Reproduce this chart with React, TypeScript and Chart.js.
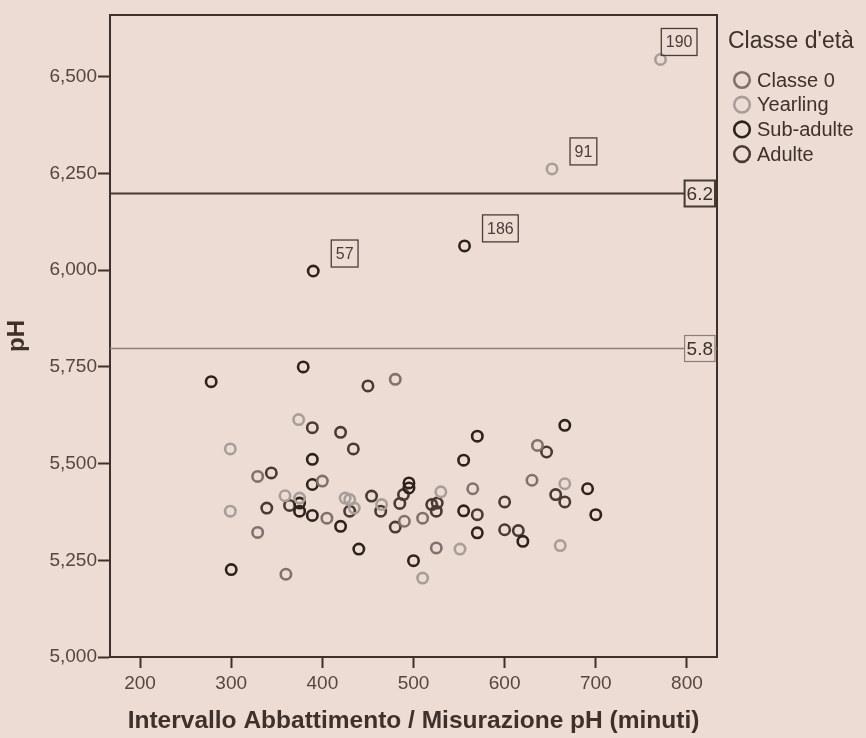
import React, { useEffect, useRef } from "react";
import { Chart, registerables } from "chart.js";

Chart.register(...registerables);

// ---- data ----
const legendTitle = "Classe d'età";
const seriesNames = ["Classe 0", "Yearling", "Sub-adulte", "Adulte"];
const seriesColors = ["#7f716b", "#a89e99", "#2e221e", "#4a3a34"];

const classe0X = [480, 329, 400, 405, 510, 490, 525, 360, 329, 636, 565, 630];
const classe0Y = [5.718, 5.467, 5.455, 5.359, 5.359, 5.351, 5.282, 5.214, 5.322, 5.547, 5.435, 5.457];
const classe0Ids: string[] = [];

const yearlingX = [771, 652, 374, 299, 359, 375, 299, 425, 430, 435, 465, 530, 510, 666, 551, 661];
const yearlingY = [6.545, 6.262, 5.614, 5.538, 5.417, 5.411, 5.377, 5.411, 5.407, 5.385, 5.394, 5.427, 5.204, 5.448, 5.279, 5.288];
const yearlingIds = ["190", "91"];

const subAdulteX = [556, 390, 389, 300, 500, 495, 495, 389, 389, 375, 375, 420, 440, 278, 379, 555, 570, 570, 620, 555, 691, 700, 666];
const subAdulteY = [6.063, 5.998, 5.511, 5.226, 5.249, 5.45, 5.437, 5.446, 5.366, 5.398, 5.377, 5.338, 5.279, 5.712, 5.75, 5.509, 5.571, 5.321, 5.299, 5.378, 5.435, 5.368, 5.599];
const subAdulteIds = ["186", "57"];

const adulteX = [450, 389, 420, 434, 344, 364, 339, 430, 454, 464, 489, 485, 520, 526, 525, 480, 646, 656, 666, 600, 570, 600, 615];
const adulteY = [5.701, 5.593, 5.581, 5.538, 5.476, 5.392, 5.385, 5.377, 5.416, 5.377, 5.42, 5.397, 5.394, 5.398, 5.377, 5.336, 5.53, 5.42, 5.401, 5.401, 5.368, 5.329, 5.327];
const adulteIds: string[] = [];

const refValues = [6.2, 5.8];
const refLabels = ["6.2", "5.8"];

const xTitle = "Intervallo Abbattimento / Misurazione pH (minuti)";
const yTitle = "pH";
const xMin = 167;
const xMax = 833;
const yMin = 5.0;
const yMax = 6.66;
const xStep = 100;
const yStep = 0.25;

// ---- style ----
const BG = "#ecdcd3";
const INK = "#3e302b";
const TICK_INK = "#55463f";
const FONT = "'Liberation Sans', Arial, sans-serif";

const seriesX = [classe0X, yearlingX, subAdulteX, adulteX];
const seriesY = [classe0Y, yearlingY, subAdulteY, adulteY];
const seriesIds = [classe0Ids, yearlingIds, subAdulteIds, adulteIds];

const bgPlugin = {
  id: "bgFill",
  beforeDraw(chart: any) {
    const ctx = chart.ctx;
    ctx.save();
    ctx.fillStyle = BG;
    ctx.fillRect(0, 0, chart.width, chart.height);
    ctx.restore();
  },
};

const framePlugin = {
  id: "frameBox",
  beforeDatasetsDraw(chart: any) {
    const { ctx, chartArea: a } = chart;
    ctx.save();
    ctx.strokeStyle = INK;
    ctx.lineWidth = 2;
    ctx.strokeRect(a.left, a.top, a.right - a.left, a.bottom - a.top);
    ctx.restore();
  },
};

const refPlugin = {
  id: "refLines",
  afterDatasetsDraw(chart: any) {
    const { ctx, chartArea: a } = chart;
    const y = chart.scales.y;
    ctx.save();
    refValues.forEach((v, i) => {
      const py = Math.round(y.getPixelForValue(v)) + 0.5;
      ctx.beginPath();
      ctx.strokeStyle = i === 0 ? "#463833" : "#8c7f79";
      ctx.lineWidth = i === 0 ? 2 : 1.5;
      ctx.moveTo(a.left, py);
      ctx.lineTo(a.right, py);
      ctx.stroke();
      ctx.font = `19px ${FONT}`;
      const w = ctx.measureText(refLabels[i]).width + 4;
      const h = 26;
      const bx = a.right - w - 2;
      const by = py - h / 2;
      ctx.fillStyle = BG;
      ctx.fillRect(bx, by, w, h);
      ctx.strokeStyle = i === 0 ? "#463833" : "#8c7f79";
      ctx.lineWidth = i === 0 ? 2 : 1.2;
      ctx.strokeRect(bx, by, w, h);
      ctx.fillStyle = INK;
      ctx.textAlign = "center";
      ctx.textBaseline = "middle";
      ctx.fillText(refLabels[i], bx + w / 2, py + 1);
    });
    ctx.restore();
  },
};

const caseLabelPlugin = {
  id: "caseLabels",
  afterDatasetsDraw(chart: any) {
    const { ctx, chartArea: a } = chart;
    ctx.save();
    ctx.font = `16px ${FONT}`;
    chart.data.datasets.forEach((ds: any, di: number) => {
      const ids: string[] = ds.caseIds || [];
      const meta = chart.getDatasetMeta(di);
      ids.forEach((t, i) => {
        const el = meta.data[i];
        if (!el || !t) return;
        const w = ctx.measureText(t).width + 9;
        const h = 27;
        let bx = el.x + 18;
        if (bx + w > a.right - 20) bx = a.right - 20 - w;
        const by = el.y - 4 - h;
        ctx.strokeStyle = "#4a3c37";
        ctx.lineWidth = 1.3;
        ctx.strokeRect(bx, by, w, h);
        ctx.fillStyle = "#4a3c37";
        ctx.textAlign = "center";
        ctx.textBaseline = "middle";
        ctx.fillText(t, bx + w / 2, by + h / 2 + 1);
      });
    });
    ctx.restore();
  },
};

const legendPlugin = {
  id: "customLegend",
  afterDraw(chart: any) {
    const { ctx, chartArea: a } = chart;
    ctx.save();
    const x0 = a.right + 11;
    ctx.fillStyle = INK;
    ctx.textAlign = "left";
    ctx.textBaseline = "middle";
    ctx.font = `23px ${FONT}`;
    ctx.fillText(legendTitle, x0, a.top + 27);
    ctx.font = `20px ${FONT}`;
    chart.data.datasets.forEach((ds: any, i: number) => {
      const cy = a.top + 65 + i * 24.7;
      ctx.beginPath();
      ctx.strokeStyle = ds.borderColor;
      ctx.lineWidth = 2.6;
      ctx.arc(x0 + 14, cy, 7.8, 0, Math.PI * 2);
      ctx.stroke();
      ctx.fillStyle = INK;
      ctx.fillText(ds.label, x0 + 29, cy + 1);
    });
    ctx.restore();
  },
};

export default function App() {
  const ref = useRef<HTMLCanvasElement | null>(null);
  useEffect(() => {
    if (!ref.current) return;
    const datasets = seriesNames.map((name, s) => ({
      label: name,
      data: seriesX[s].map((x, i) => ({ x, y: seriesY[s][i] })),
      caseIds: seriesIds[s],
      borderColor: seriesColors[s],
      backgroundColor: "rgba(0,0,0,0)",
      pointRadius: 5.2,
      pointHoverRadius: 5.2,
      pointBorderWidth: 2.6,
      pointStyle: "circle",
      showLine: false,
    }));
    const chart = new Chart(ref.current, {
      type: "scatter",
      data: { datasets } as any,
      plugins: [bgPlugin, framePlugin, refPlugin, caseLabelPlugin, legendPlugin],
      options: {
        animation: false,
        responsive: false,
        devicePixelRatio: 1,
        layout: { padding: { top: 15, right: 149, left: 0, bottom: 0 } },
        plugins: { legend: { display: false }, tooltip: { enabled: false } },
        scales: {
          x: {
            type: "linear",
            min: xMin,
            max: xMax,
            afterFit(s: any) {
              s.height = 81;
            },
            ticks: {
              stepSize: xStep,
              includeBounds: false,
              color: TICK_INK,
              font: { family: FONT, size: 19 },
              padding: 4,
              maxRotation: 0,
            },
            grid: {
              drawOnChartArea: false,
              drawTicks: true,
              tickLength: 11,
              tickWidth: 2,
              color: INK,
            },
            border: { display: true, color: INK, width: 2 },
            title: {
              display: true,
              text: xTitle,
              color: INK,
              font: { family: FONT, size: 24.5, weight: "bold" },
              padding: { top: 0, bottom: 2 },
            },
          },
          y: {
            type: "linear",
            min: yMin,
            max: yMax,
            afterFit(s: any) {
              s.width = 110;
            },
            ticks: {
              stepSize: yStep,
              includeBounds: false,
              color: TICK_INK,
              font: { family: FONT, size: 19 },
              padding: 1,
              callback: (v: any) => Number(v).toFixed(3).replace(".", ","),
            },
            grid: {
              drawOnChartArea: false,
              drawTicks: true,
              tickLength: 12,
              tickWidth: 2,
              color: INK,
            },
            border: { display: true, color: INK, width: 2 },
            title: {
              display: true,
              text: yTitle,
              color: INK,
              font: { family: FONT, size: 24, weight: "bold" },
              padding: { top: 3, bottom: 0 },
            },
          },
        },
      } as any,
    });
    return () => chart.destroy();
  }, []);
  return (
    <div style={{ position: "fixed", left: 0, top: 0, width: 866, height: 738, background: BG }}>
      <canvas ref={ref} width={866} height={738} />
    </div>
  );
}
